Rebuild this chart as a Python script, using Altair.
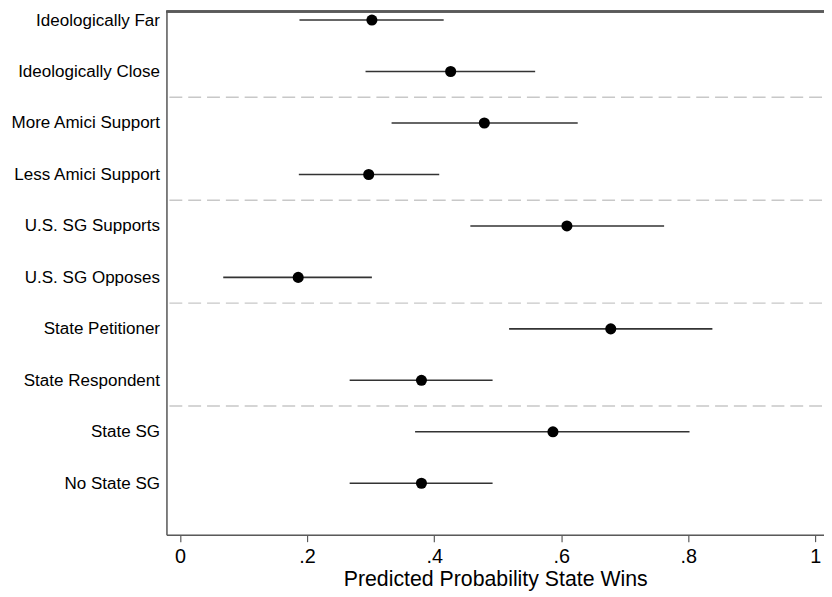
import json
import altair as alt
import pandas as pd

labels = ["Ideologically Far", "Ideologically Close", "More Amici Support",
          "Less Amici Support", "U.S. SG Supports", "U.S. SG Opposes",
          "State Petitioner", "State Respondent", "State SG", "No State SG"]
estimates = [0.302, 0.426, 0.479, 0.297, 0.609, 0.186, 0.678, 0.380, 0.587, 0.380]
lower = [0.188, 0.292, 0.333, 0.187, 0.457, 0.068, 0.518, 0.267, 0.370, 0.267]
upper = [0.415, 0.559, 0.626, 0.408, 0.762, 0.302, 0.838, 0.492, 0.802, 0.492]
rows = list(range(1, len(labels) + 1))
separators = [2.5, 4.5, 6.5, 8.5]
x_ticks = [0, 0.2, 0.4, 0.6, 0.8, 1.0]
x_title = "Predicted Probability State Wins"

df = pd.DataFrame({"row": rows, "label": labels, "est": estimates,
                   "lo": lower, "hi": upper})
sep_df = pd.DataFrame({"row": separators})

W, H = 664, 529
FONT = "Liberation Sans"

xscale = alt.Scale(domain=[-0.0214, 1.0137], nice=False, zero=False)
yscale = alt.Scale(domain=[0.821, 11], nice=False, zero=False, reverse=True)

label_expr_y = "[" + ",".join(json.dumps(l) for l in labels) + "][datum.value - 1]"
label_expr_x = ("datum.value == 0 ? '0' : datum.value == 1 ? '1' : "
                "replace(format(datum.value, '.1f'), '0.', '.')")

x_axis = alt.Axis(values=x_ticks, labelExpr=label_expr_x, tickSize=7,
                  tickColor="#5a5a5a", tickWidth=1.2, labelFontSize=20,
                  labelFont=FONT, labelColor="black", labelPadding=5,
                  title=x_title, titleFont=FONT, titleFontSize=21.5,
                  titleFontWeight="normal", titleColor="black", titlePadding=2,
                  grid=False, domainColor="#5a5a5a", domainWidth=1.5)
y_axis = alt.Axis(values=rows, labelExpr=label_expr_y, ticks=False,
                  labelFontSize=17.2, labelFont=FONT, labelColor="black",
                  labelPadding=7, title=None, grid=False,
                  domainColor="#5a5a5a", domainWidth=1.5)

seps = alt.Chart(sep_df).mark_rule(color="#c8c8c8", strokeWidth=1.5,
                                   strokeDash=[13, 6]).encode(
    y=alt.Y("row:Q", scale=yscale, axis=y_axis),
    x=alt.value(3), x2=alt.value(W))

ci = alt.Chart(df).mark_rule(color="#333333", strokeWidth=1.6).encode(
    x=alt.X("lo:Q", scale=xscale, axis=x_axis),
    x2="hi:Q",
    y=alt.Y("row:Q", scale=yscale))

pts = alt.Chart(df).mark_point(filled=True, shape="circle", size=125,
                               color="black", opacity=1).encode(
    x=alt.X("est:Q", scale=xscale),
    y=alt.Y("row:Q", scale=yscale))

top = alt.Chart(df).mark_rule(color="#5a5a5a", strokeWidth=1.5).encode(
    x=alt.value(0), x2=alt.value(W), y=alt.value(0.75))

chart = alt.layer(seps, ci, pts, top).properties(
    width=W, height=H,
    autosize=alt.AutoSizeParams(type="none"),
    padding={"left": 160, "top": 0, "right": 0, "bottom": 60},
).configure_view(strokeWidth=0).configure(background="white")

chart.save("out.html", embed_options={"renderer": "svg", "actions": False})
